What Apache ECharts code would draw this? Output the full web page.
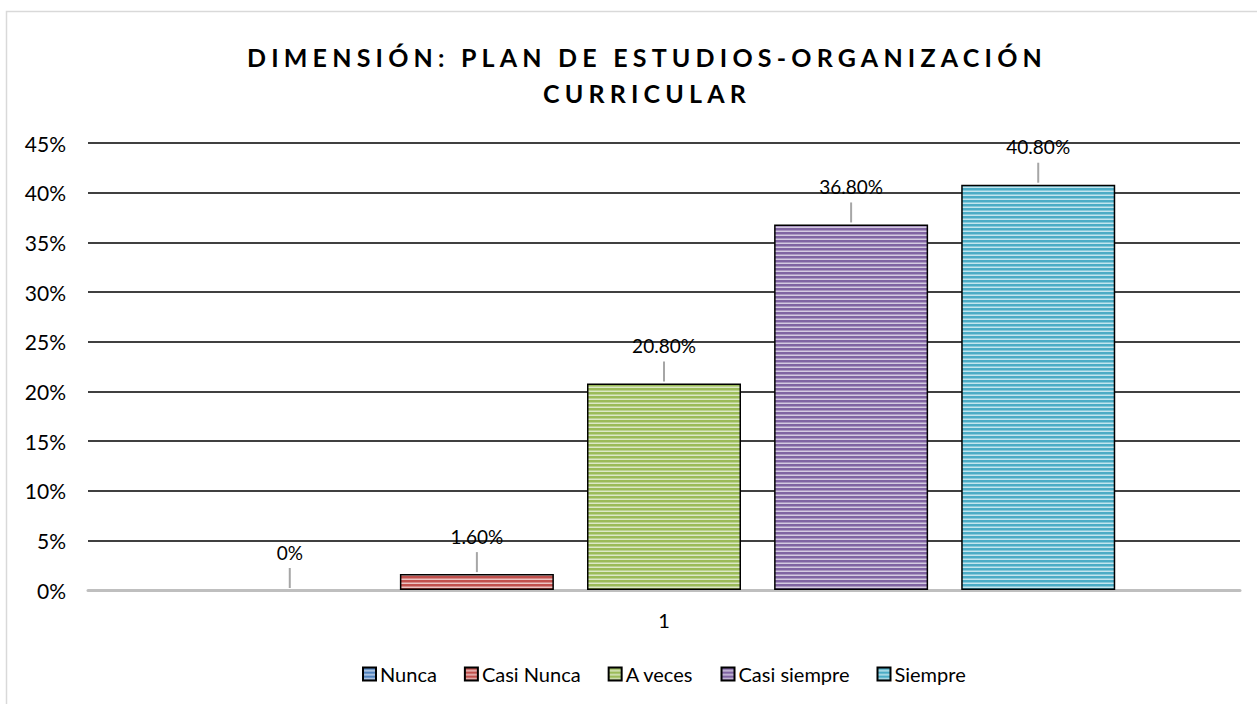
<!DOCTYPE html>
<html>
<head>
<meta charset="utf-8">
<script src="https://cdn.jsdelivr.net/npm/echarts@6/dist/echarts.min.js"></script>
<style>
  html, body { margin: 0; padding: 0; background: #fff; }
  #chart { width: 1257px; height: 704px; }
  /* only the title is bold: give it the wide spacing of the original */
  #chart text[style*="bold"] { letter-spacing: 5.2px; }
</style>
</head>
<body>
<div id="chart"></div>
<script>
// datos
var categorias = ['1'];
var series = ['Nunca', 'Casi Nunca', 'A veces', 'Casi siempre', 'Siempre'];
var valores = [0, 1.6, 20.8, 36.8, 40.8];
var ticks = [0, 5, 10, 15, 20, 25, 30, 35, 40, 45];

var colores = [
  ['#4F81BD', '#C6D5EA'],
  ['#C0504D', '#EBC4C3'],
  ['#9BBB59', '#DCE8C6'],
  ['#8064A2', '#D4CAE0'],
  ['#4BACC6', '#C3E5EE']
];

// rayado horizontal como el de Excel
function rayas(c) {
  var cv = document.createElement('canvas');
  cv.width = 4; cv.height = 4;
  var ctx = cv.getContext('2d');
  ctx.fillStyle = c[0];
  ctx.fillRect(0, 0, 4, 4);
  ctx.fillStyle = c[1];
  ctx.fillRect(0, 3, 4, 1);
  ctx.globalAlpha = 0.5;
  ctx.fillRect(0, 2, 4, 1);
  return cv;
}

var myChart = echarts.init(document.getElementById('chart'), null, { renderer: 'svg' });

var option = {
  animation: false,
  textStyle: { fontFamily: 'Lato' },
  graphic: [{
    type: 'rect',
    shape: { x: 6.5, y: 11.5, width: 1300, height: 750 },
    style: { fill: null, stroke: '#D9D9D9', lineWidth: 1.5 },
    silent: true
  }],
  title: {
    text: 'DIMENSIÓN: PLAN DE ESTUDIOS-ORGANIZACIÓN\nCURRICULAR',
    left: 642,
    top: 34,
    textAlign: 'center',
    textStyle: {
      fontFamily: 'Lato',
      fontWeight: 'bold',
      fontSize: 25,
      lineHeight: 36,
      color: '#000'
    }
  },
  legend: {
    data: series,
    bottom: 15,
    left: 357,
    itemWidth: 13,
    itemHeight: 13,
    itemGap: 27,
    icon: 'rect',
    textStyle: { fontSize: 20, color: '#000', padding: [0, 0, 0, -1] }
  },
  grid: { left: 88, right: 17, top: 143, bottom: 114 },
  xAxis: {
    type: 'category',
    data: categorias,
    axisLine: { lineStyle: { color: '#BFBFBF', width: 3 } },
    axisTick: { show: false },
    axisLabel: { fontSize: 20, color: '#000', margin: 20 }
  },
  yAxis: {
    type: 'value',
    min: 0,
    max: 45,
    interval: 5,
    axisLine: { show: false },
    axisTick: { show: false },
    axisLabel: {
      fontSize: 21, color: '#000', margin: 22,
      formatter: function (v) { return ticks.indexOf(v) >= 0 ? v + '%' : ''; }
    },
    splitLine: { lineStyle: { color: '#000', width: 1.6 } }
  },
  series: series.map(function (nombre, i) {
    return {
      name: nombre,
      type: 'bar',
      barWidth: 154,
      barGap: '21.5%',
      data: [{
        value: valores[i],
        // Excel no dibuja el borde de una barra de altura cero
        itemStyle: valores[i] === 0 ? { borderWidth: 0 } : {}
      }],
      itemStyle: {
        color: { image: rayas(colores[i]), repeat: 'repeat' },
        borderColor: '#000',
        borderWidth: 1.5
      },
      label: {
        show: true,
        position: 'top',
        distance: 2,
        formatter: function (p) {
          var t = p.value === 0 ? '0%' : p.value.toFixed(2) + '%';
          return '{v|' + t + '}\n{l|}';
        },
        rich: {
          v: { fontSize: 19, color: '#000', lineHeight: 32, align: 'center' },
          l: { width: 2, height: 20, backgroundColor: '#A6A6A6', align: 'center' }
        }
      }
    };
  })
};

myChart.setOption(option);
</script>
</body>
</html>
